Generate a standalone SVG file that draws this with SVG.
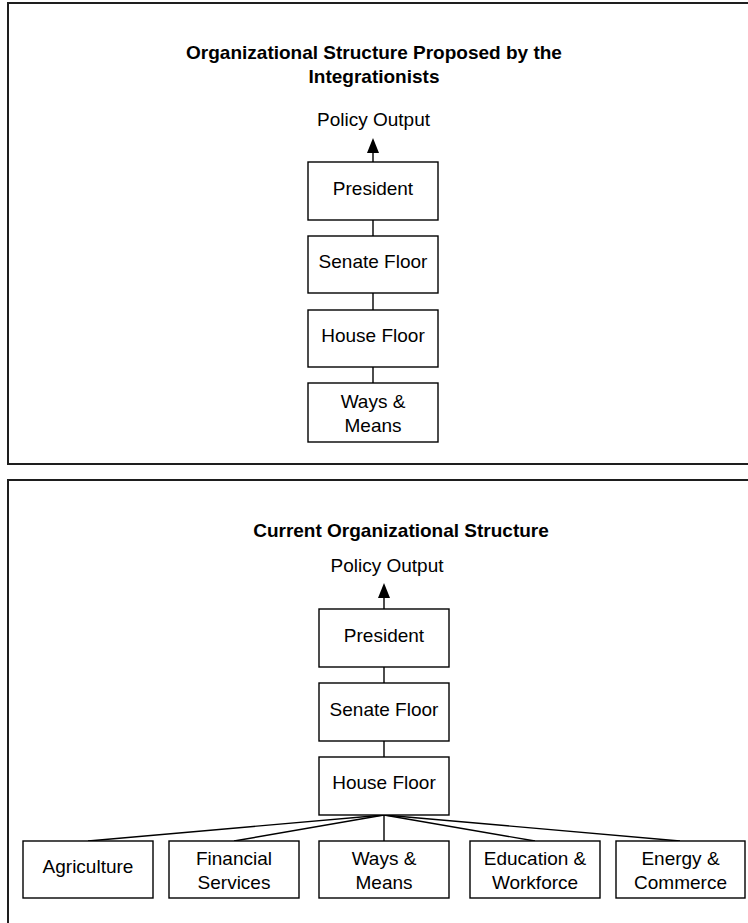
<svg xmlns="http://www.w3.org/2000/svg" width="748" height="923" viewBox="0 0 748 923">
<style>
.frame{fill:none;stroke:#1e1e1e;stroke-width:2}
.box{fill:#fff;stroke:#000;stroke-width:1.4}
.lbl{font-family:"Liberation Sans",Arial,sans-serif;font-size:19px;fill:#000;text-anchor:middle}
.ttl{font-family:"Liberation Sans",Arial,sans-serif;font-size:19px;font-weight:bold;fill:#000;text-anchor:middle}
.con{stroke:#000;stroke-width:1.4;fill:none}
</style>
<defs>
<marker id="arr" viewBox="0 0 12 15" refX="6" refY="0" markerWidth="12" markerHeight="15" markerUnits="userSpaceOnUse" orient="auto-start-reverse">
<path d="M0,15 L6,0 L12,15 Z" fill="#000"/>
</marker>
</defs>
<rect class="frame" x="8" y="3" width="760" height="461"/>
<rect class="frame" x="8" y="480" width="760" height="460"/>

<g id="title-top">
<text class="ttl" x="374" y="59">Organizational Structure Proposed by the</text>
<text class="ttl" x="374" y="83">Integrationists</text>
</g>
<g id="output-top"><text class="lbl" x="373.5" y="125.5">Policy Output</text></g>

<g id="connectors-top">
<line class="con" x1="373" y1="162" x2="373" y2="152"/>
<path d="M373,138 L367,153 L379,153 Z" fill="#000"/>
<line class="con" x1="373" y1="220" x2="373" y2="236"/>
<line class="con" x1="373" y1="293" x2="373" y2="310"/>
<line class="con" x1="373" y1="367" x2="373" y2="383"/>
</g>

<g id="president-top"><rect class="box" x="308" y="162" width="130" height="58"/><text class="lbl" x="373" y="195">President</text></g>
<g id="senate-top"><rect class="box" x="308" y="236" width="130" height="57"/><text class="lbl" x="373" y="268">Senate Floor</text></g>
<g id="house-top"><rect class="box" x="308" y="310" width="130" height="57"/><text class="lbl" x="373" y="342">House Floor</text></g>
<g id="waysmeans-top"><rect class="box" x="308" y="383" width="130" height="59"/><text class="lbl" x="373" y="408">Ways &amp;</text><text class="lbl" x="373" y="432">Means</text></g>

<g id="title-bottom"><text class="ttl" x="401" y="537">Current Organizational Structure</text></g>
<g id="output-bottom"><text class="lbl" x="387" y="572">Policy Output</text></g>

<g id="connectors-bottom">
<line class="con" x1="384" y1="609" x2="384" y2="597"/>
<path d="M384,583 L378,598 L390,598 Z" fill="#000"/>
<line class="con" x1="384" y1="667" x2="384" y2="683"/>
<line class="con" x1="384" y1="741" x2="384" y2="757"/>
<line class="con" x1="384" y1="815" x2="88" y2="841"/>
<line class="con" x1="384" y1="815" x2="234" y2="841"/>
<line class="con" x1="384" y1="815" x2="384" y2="841"/>
<line class="con" x1="384" y1="815" x2="535" y2="841"/>
<line class="con" x1="384" y1="815" x2="680" y2="841"/>
</g>

<g id="president-bottom"><rect class="box" x="319" y="609" width="130" height="58"/><text class="lbl" x="384" y="642">President</text></g>
<g id="senate-bottom"><rect class="box" x="319" y="683" width="130" height="58"/><text class="lbl" x="384" y="716">Senate Floor</text></g>
<g id="house-bottom"><rect class="box" x="319" y="757" width="130" height="58"/><text class="lbl" x="384" y="789">House Floor</text></g>

<g id="agriculture"><rect class="box" x="23" y="841" width="130" height="57"/><text class="lbl" x="88" y="873">Agriculture</text></g>
<g id="financial"><rect class="box" x="169" y="841" width="130" height="57"/><text class="lbl" x="234" y="865">Financial</text><text class="lbl" x="234" y="889">Services</text></g>
<g id="waysmeans-bottom"><rect class="box" x="319" y="841" width="130" height="57"/><text class="lbl" x="384" y="865">Ways &amp;</text><text class="lbl" x="384" y="889">Means</text></g>
<g id="education"><rect class="box" x="470" y="841" width="130" height="57"/><text class="lbl" x="535" y="865">Education &amp;</text><text class="lbl" x="535" y="889">Workforce</text></g>
<g id="energy"><rect class="box" x="616" y="841" width="129" height="57"/><text class="lbl" x="680.5" y="865">Energy &amp;</text><text class="lbl" x="680.5" y="889">Commerce</text></g>
</svg>
